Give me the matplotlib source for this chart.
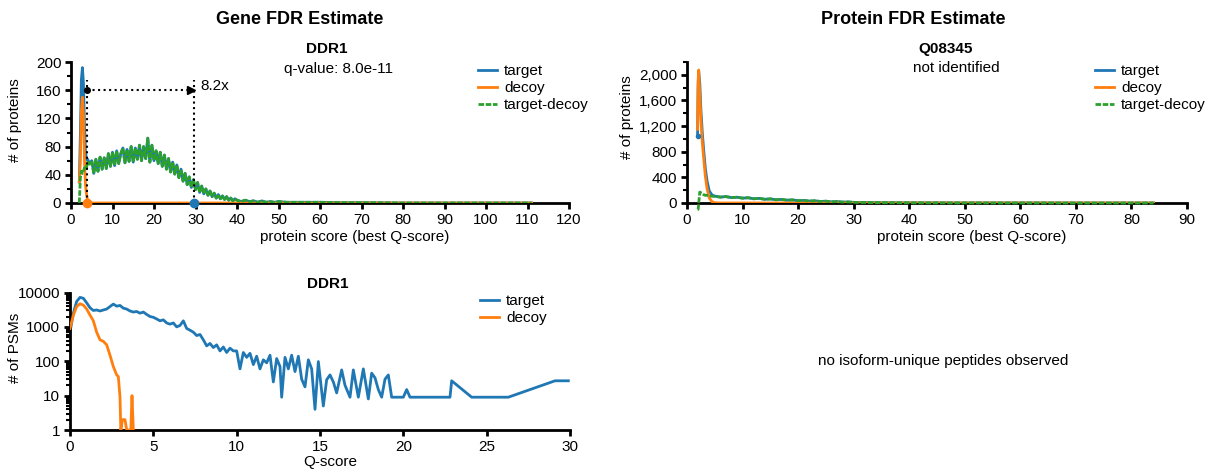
import matplotlib
matplotlib.use("Agg")
import matplotlib.pyplot as plt
import numpy as np
from matplotlib.ticker import MultipleLocator, FuncFormatter, LogLocator, NullFormatter

plt.rcParams['font.family'] = ['Liberation Sans', 'DejaVu Sans']
plt.rcParams['font.size'] = 11

BLUE = '#1f77b4'
ORANGE = '#ff7f0e'
GREEN = '#2ca02c'

# ---- gene FDR (top left) ----
gene_x = [2.0, 2.25, 2.5, 2.75, 3.0, 3.25, 3.5, 3.75, 4.0, 4.5,
          5.0, 5.5, 6.0, 6.5, 7.0, 7.5, 8.0, 8.5, 9.0, 9.5,
          10.0, 10.5, 11.0, 11.5, 12.0, 12.5, 13.0, 13.5, 14.0, 14.5,
          15.0, 15.5, 16.0, 16.5, 17.0, 17.5, 18.0, 18.5, 19.0, 19.5,
          20.0, 20.5, 21.0, 21.5, 22.0, 22.5, 23.0, 23.5, 24.0, 24.5,
          25.0, 25.5, 26.0, 26.5, 27.0, 27.5, 28.0, 28.5, 29.0, 29.5,
          30.0, 30.5, 31.0, 31.5, 32.0, 32.5, 33.0, 33.5, 34.0, 34.5,
          35.0, 35.5, 36.0, 36.5, 37.0, 37.5, 38.0, 38.5, 39.0, 39.5,
          40, 41, 42, 43, 44, 45, 46, 47, 48, 49, 50, 52, 54, 56, 58, 60,
          65, 70, 80, 90, 100, 111]
gene_target = [30, 95, 175, 192, 170, 110, 72, 62, 62, 56,
               60, 42, 62, 45, 65, 48, 64, 49, 70, 52,
               72, 53, 74, 56, 70, 78, 57, 76, 59, 80,
               58, 78, 62, 82, 60, 80, 63, 92, 58, 82,
               60, 74, 56, 72, 52, 68, 48, 63, 44, 58,
               41, 54, 36, 48, 31, 42, 26, 37, 22, 33,
               19, 29, 15, 24, 13, 20, 11, 17, 9, 14,
               7, 12, 6, 10, 5, 9, 4, 7, 3, 6,
               4, 2, 4, 2, 3, 1, 3, 1, 2, 1, 2, 1, 1, 1, 1, 1,
               0.5, 0.5, 0, 0, 0, 0]
gene_decoy = [30, 60, 130, 150, 125, 60, 25, 12, 4, 1,
              0, 0, 0, 0, 0, 0, 0, 0, 0, 0,
              0, 0, 0, 0, 0, 0, 0, 0, 0, 0,
              0, 0, 0, 0, 0, 0, 0, 0, 0, 0,
              0, 0, 0, 0, 0, 0, 0, 0, 0, 0,
              0, 0, 0, 0, 0, 0, 0, 0, 0, 0,
              0, 0, 0, 0, 0, 0, 0, 0, 0, 0,
              0, 0, 0, 0, 0, 0, 0, 0, 0, 0,
              0, 0, 0, 0, 0, 0, 0, 0, 0, 0, 0, 0, 0, 0, 0, 0,
              0, 0, 0, 0, 0, 0]
gene_decoy_cut = 3.8
gene_target_cut = 29.6
gene_ratio = '8.2x'

# ---- protein FDR (top right) ----
prot_x = [1.9, 2.0, 2.1, 2.3, 2.5, 2.75, 3.0, 3.3, 3.6, 4.0, 4.5,
          5, 6, 7, 8, 9, 10, 11, 12, 13, 14, 15, 16, 17, 18, 19, 20,
          21, 22, 23, 24, 25, 26, 27, 28, 29, 30, 32, 35, 40, 50, 60, 70, 84]
prot_target = [1050, 1800, 2060, 1870, 1460, 1100, 830, 540, 350, 190, 125,
               108, 92, 100, 84, 90, 76, 82, 66, 72, 58, 64, 50, 56, 44, 48, 36,
               40, 30, 34, 24, 28, 18, 22, 14, 16, 10, 8, 5, 3, 1, 1, 0, 0]
prot_decoy = [1150, 1900, 2075, 1700, 1300, 950, 700, 420, 230, 80, 20,
              5, 0, 0, 0, 0, 0, 0, 0, 0, 0, 0, 0, 0, 0, 0, 0,
              0, 0, 0, 0, 0, 0, 0, 0, 0, 0, 0, 0, 0, 0, 0, 0, 0]

# ---- PSM histogram (bottom left) ----
psm_target_x = [0.0, 0.2, 0.4, 0.6, 0.8, 1.0, 1.2, 1.4, 1.6, 1.8,
                2.0, 2.2, 2.4, 2.6, 2.8, 3.0, 3.2, 3.4, 3.6, 3.8,
                4.0, 4.2, 4.4, 4.6, 4.8, 5.0, 5.2, 5.4, 5.6, 5.8,
                6.0, 6.2, 6.4, 6.6, 6.8, 7.0, 7.2, 7.4, 7.6, 7.8,
                8.0, 8.2, 8.4, 8.6, 8.8, 9.0, 9.2, 9.4, 9.6, 9.8,
                10.0, 10.2, 10.4, 10.6, 10.8, 11.0, 11.2, 11.4, 11.6, 11.8,
                12.0, 12.2, 12.4, 12.6, 12.7, 12.9, 13.1, 13.3, 13.5, 13.7,
                13.9, 14.1, 14.3, 14.5, 14.7, 14.9, 15.2, 15.4, 15.6, 15.8,
                16.0, 16.3, 16.5, 16.8, 17.0, 17.3, 17.6, 17.9, 18.1, 18.3,
                18.5, 18.7, 18.9, 19.1, 19.3, 20.0, 20.2, 20.4, 22.8, 22.9,
                24.1, 26.3, 29.1, 29.9]
psm_target = [700, 2500, 5500, 7200, 6800, 5000, 3600, 3000, 3100, 2900,
              3100, 3300, 3900, 4600, 4000, 4200, 3500, 3300, 2900, 2700,
              2800, 2500, 2700, 2300, 2000, 1900, 1700, 1500, 1600, 1300,
              1200, 1300, 1000, 1100, 1500, 900, 800, 700, 560, 600,
              420, 280, 330, 250, 300, 200, 260, 180, 240, 200,
              200, 60, 180, 130, 170, 80, 140, 60, 110, 90,
              150, 25, 120, 70, 9, 130, 60, 150, 50, 140,
              30, 18, 110, 60, 4, 98, 5, 29, 40, 25,
              12, 56, 20, 9, 56, 9, 60, 8, 45, 33,
              15, 9, 30, 40, 9, 9, 15, 9, 9, 27,
              9, 9, 27, 27]
psm_decoy_x = [0.0, 0.2, 0.4, 0.6, 0.8, 1.0, 1.2, 1.4, 1.6, 1.8,
               2.0, 2.2, 2.4, 2.6, 2.8, 2.9, 3.0, 3.05, 3.15, 3.3,
               3.4, 3.5, 3.65, 3.72, 3.8]
psm_decoy = [900, 2200, 3900, 4700, 4300, 3300, 2200, 1500, 700, 420,
             380, 300, 150, 70, 40, 36, 9, 1, 2, 2,
             1, 1, 1, 10, 1]

fig = plt.figure(figsize=(12.18, 4.70), dpi=100)
ax1 = fig.add_axes([71 / 1218, 1 - 203 / 470, 498 / 1218, 141 / 470])
ax2 = fig.add_axes([687 / 1218, 1 - 203 / 470, 500 / 1218, 141 / 470])
ax3 = fig.add_axes([70 / 1218, 1 - 430 / 470, 500 / 1218, 137.5 / 470])


def style_axes(ax):
    for side in ['top', 'right']:
        ax.spines[side].set_visible(False)
    for side in ['left', 'bottom']:
        ax.spines[side].set_linewidth(2)
    ax.tick_params(which='major', direction='out', length=4, width=2, labelsize=11, pad=3)
    ax.tick_params(which='minor', direction='out', length=3, width=1.5)


def add_legend(ax, x_px, y_px):
    ax.legend(loc='upper left', bbox_to_anchor=(x_px / 1218, 1 - y_px / 470),
              bbox_transform=fig.transFigure, frameon=False, fontsize=11,
              handlelength=1.25, handletextpad=0.45, labelspacing=0.2,
              borderpad=0, borderaxespad=0)


# top left
gx = np.array(gene_x)
gt = np.array(gene_target)
gd = np.array(gene_decoy)
ax1.plot(gx, gt, color=BLUE, lw=2, label='target', zorder=2)
ax1.plot(gx, gd, color=ORANGE, lw=2, label='decoy', zorder=3)
ax1.plot(gx, gt - gd, color=GREEN, lw=2, ls=(0, (2, 0.6)), label='target-decoy', zorder=4)
ax1.plot([gene_decoy_cut, gene_decoy_cut], [0, 175], color='black', lw=1.5, ls=':', zorder=5)
ax1.plot([gene_target_cut, gene_target_cut], [0, 175], color='black', lw=1.5, ls=':', zorder=5)
ax1.plot([gene_decoy_cut, gene_target_cut - 1], [160, 160], color='black', lw=1.5, ls=':', zorder=5)
ax1.plot(gene_decoy_cut, 160, 'o', color='black', ms=4, zorder=6)
ax1.plot(gene_target_cut - 0.6, 160, '>', color='black', ms=6, zorder=6)
ax1.plot(gene_decoy_cut, 0, 'o', color=ORANGE, ms=6, zorder=6, clip_on=False)
ax1.plot(gene_target_cut, 0, 'o', color=BLUE, ms=6, zorder=6, clip_on=False)
ax1.text(gene_target_cut + 1.5, 166, gene_ratio, fontsize=11, va='center', ha='left')
ax1.set_xlim(0, 120)
ax1.set_ylim(0, 200)
ax1.xaxis.set_major_locator(MultipleLocator(10))
ax1.yaxis.set_major_locator(MultipleLocator(40))
ax1.yaxis.set_minor_locator(MultipleLocator(20))
style_axes(ax1)
ax1.set_xlabel('protein score (best Q-score)', fontsize=11)
ax1.xaxis.set_label_coords(0.57, -0.19)
ax1.set_ylabel('# of proteins', fontsize=11)
ax1.yaxis.set_label_coords(-0.098, 0.59)
add_legend(ax1, 478, 64)

# top right
px_ = np.array(prot_x)
pt = np.array(prot_target)
pd_ = np.array(prot_decoy)
ax2.plot(px_, pt, color=BLUE, lw=2, label='target', zorder=2)
ax2.plot(px_, pd_, color=ORANGE, lw=2, label='decoy', zorder=3)
ax2.plot(px_, pt - pd_, color=GREEN, lw=2, ls=(0, (2, 0.6)), label='target-decoy',
         zorder=4, clip_on=False)
ax2.plot(prot_x[0], prot_target[0], 'o', color=BLUE, ms=3, zorder=5)
ax2.set_xlim(0, 90)
ax2.set_ylim(0, 2200)
ax2.xaxis.set_major_locator(MultipleLocator(10))
ax2.yaxis.set_major_locator(MultipleLocator(400))
ax2.yaxis.set_minor_locator(MultipleLocator(200))
ax2.yaxis.set_major_formatter(FuncFormatter(lambda v, p: f'{int(v):,}'))
style_axes(ax2)
ax2.set_xlabel('protein score (best Q-score)', fontsize=11)
ax2.xaxis.set_label_coords(0.57, -0.19)
ax2.set_ylabel('# of proteins', fontsize=11)
ax2.yaxis.set_label_coords(-0.106, 0.61)
add_legend(ax2, 1095, 64)

# bottom left
ax3.plot(psm_target_x, psm_target, color=BLUE, lw=2, label='target', zorder=2)
ax3.plot(psm_decoy_x, psm_decoy, color=ORANGE, lw=2, label='decoy', zorder=3)
ax3.set_yscale('log')
ax3.set_xlim(0, 30)
ax3.set_ylim(1, 10000)
ax3.xaxis.set_major_locator(MultipleLocator(5))
ax3.yaxis.set_major_locator(LogLocator(base=10, numticks=10))
ax3.yaxis.set_major_formatter(FuncFormatter(lambda v, p: f'{int(round(v))}'))
ax3.yaxis.set_minor_locator(LogLocator(base=10, subs=np.arange(2, 10), numticks=10))
ax3.yaxis.set_minor_formatter(NullFormatter())
style_axes(ax3)
ax3.set_xlabel('Q-score', fontsize=11)
ax3.xaxis.set_label_coords(0.52, -0.18)
ax3.set_ylabel('# of PSMs', fontsize=11)
ax3.yaxis.set_label_coords(-0.096, 0.60)
add_legend(ax3, 480, 294)

# titles and notes
fig.text(300 / 1218, 1 - 20 / 470, 'Gene FDR Estimate', fontsize=13, fontweight='bold', ha='center', va='center')
fig.text(327 / 1218, 1 - 49 / 470, 'DDR1', fontsize=11, fontweight='bold', ha='center', va='center')
fig.text(339 / 1218, 1 - 69 / 470, 'q-value: 8.0e-11', fontsize=11, ha='center', va='center')
fig.text(913 / 1218, 1 - 20 / 470, 'Protein FDR Estimate', fontsize=13, fontweight='bold', ha='center', va='center')
fig.text(946 / 1218, 1 - 49 / 470, 'Q08345', fontsize=11, fontweight='bold', ha='center', va='center')
fig.text(956 / 1218, 1 - 68 / 470, 'not identified', fontsize=11, ha='center', va='center')
fig.text(328 / 1218, 1 - 284 / 470, 'DDR1', fontsize=11, fontweight='bold', ha='center', va='center')
fig.text(943 / 1218, 1 - 361 / 470, 'no isoform-unique peptides observed', fontsize=11, ha='center', va='center')

fig.savefig('out.png', dpi=100)
